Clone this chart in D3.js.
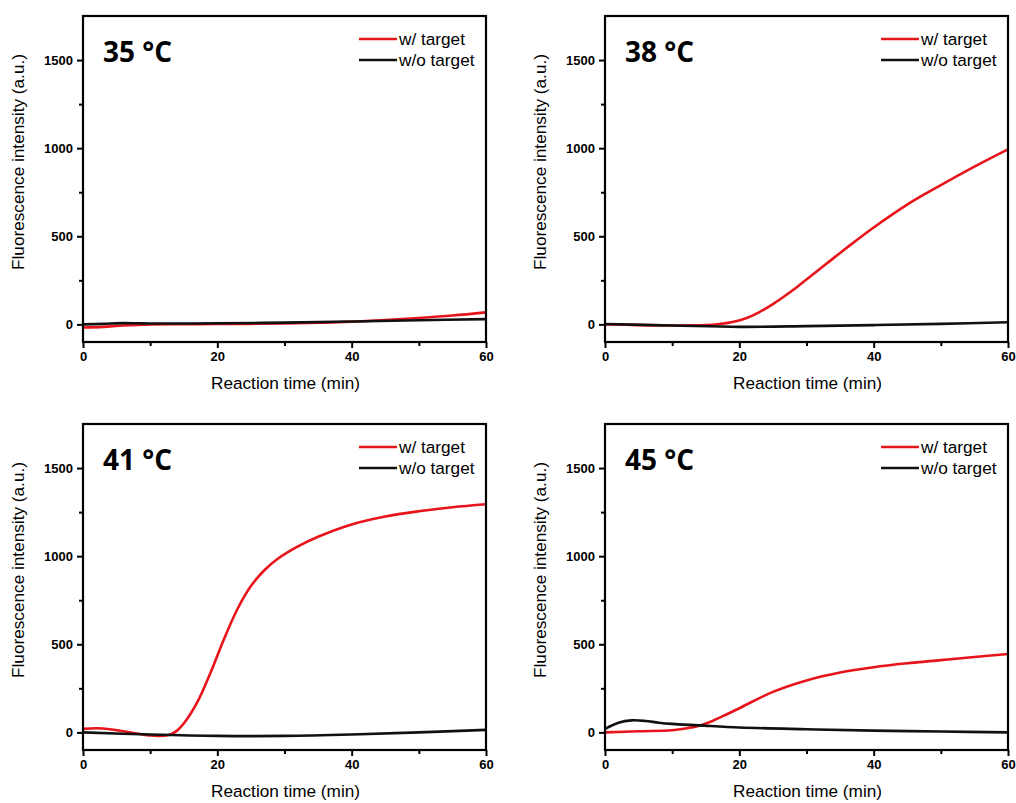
<!DOCTYPE html>
<html>
<head>
<meta charset="utf-8">
<script src="https://cdn.jsdelivr.net/npm/d3@7"></script>
<style>
  body { margin: 0; background: #fff; }
  svg { display: block; font-family: "Liberation Sans", Arial, sans-serif; }
</style>
</head>
<body>
<script>
// panel labels
const temps = ["35 °C", "38 °C", "41 °C", "45 °C"];
const seriesNames = ["w/ target", "w/o target"];
const seriesColors = ["#e8141c", "#111111"];
const xTicks = [0, 20, 40, 60];
const yTicks = [0, 500, 1000, 1500];

// time points (min)
const time35w = [0, 3, 6, 10, 15, 20, 25, 30, 35, 40, 45, 50, 55, 60];
const val35w  = [-18, -14, -6, 0, 1, 2, 3, 5, 9, 15, 24, 36, 50, 68];
const time35o = [0, 3, 6, 8, 10, 15, 20, 30, 40, 50, 60];
const val35o  = [0, 3, 7, 6, 5, 5, 6, 10, 16, 23, 30];

const time38w = [0, 5, 10, 15, 17, 19, 21, 23, 25, 28, 30, 33, 36, 40, 45, 50, 55, 60];
const val38w  = [0, -4, -6, -4, 2, 14, 35, 70, 115, 195, 255, 345, 435, 550, 680, 790, 895, 993];
const time38o = [0, 10, 20, 30, 40, 50, 60];
const val38o  = [2, -6, -14, -10, -4, 3, 12];

const time41w = [0, 2, 4, 6, 8, 10, 11.5, 13, 14, 15, 17, 19, 21, 23, 25, 27, 29, 32, 35, 40, 45, 50, 55, 60];
const val41w  = [20, 23, 18, 6, -6, -18, -20, -12, 10, 50, 170, 340, 530, 700, 830, 920, 985, 1055, 1110, 1180, 1225, 1255, 1278, 1295];
const time41o = [0, 10, 20, 30, 40, 50, 60];
const val41o  = [0, -12, -20, -20, -12, 0, 14];

const time45w = [0, 5, 10, 12, 14, 16, 18, 20, 25, 30, 35, 40, 45, 50, 55, 60];
const val45w  = [0, 6, 12, 22, 38, 65, 100, 137, 230, 295, 340, 370, 392, 410, 428, 445];
const time45o = [0, 2, 4, 6, 8, 10, 14, 20, 30, 40, 50, 60];
const val45o  = [20, 55, 68, 65, 55, 48, 40, 28, 18, 10, 5, 0];

const panelData = [
  [[time35w, val35w], [time35o, val35o]],
  [[time38w, val38w], [time38o, val38o]],
  [[time41w, val41w], [time41o, val41o]],
  [[time45w, val45w], [time45o, val45o]]
];

const width = 1016, height = 803;
const svg = d3.select("body").append("svg")
    .attr("width", width)
    .attr("height", height);

const lefts = [83, 605];
const tops = [16, 424];
const pw = 403, ph = 326;

const x = d3.scaleLinear().domain([0, 60]).range([0, pw]);
const y = d3.scaleLinear().domain([-100, 1750]).range([ph, 0]);

const line = d3.line()
    .x(d => x(d[0]))
    .y(d => y(d[1]))
    .curve(d3.curveCatmullRom.alpha(0.5));

const tickFont = a => a.selectAll("text")
    .attr("font-size", 13).attr("font-weight", "bold")
    .attr("font-family", "Liberation Sans, Arial, sans-serif").attr("fill", "#000");

panelData.forEach((series, i) => {
  const g = svg.append("g")
      .attr("transform", `translate(${lefts[i % 2]},${tops[Math.floor(i / 2)]})`);

  const clip = "clip" + i;
  g.append("clipPath").attr("id", clip)
    .append("rect").attr("width", pw).attr("height", ph);
  series.forEach((s, k) => {
    const pts = s[0].map((t, j) => [t, s[1][j]]);
    g.append("path")
      .datum(pts)
      .attr("clip-path", `url(#${clip})`)
      .attr("fill", "none")
      .attr("stroke", seriesColors[k])
      .attr("stroke-width", 2.6)
      .attr("d", line);
  });

  // frame
  g.append("rect")
      .attr("width", pw).attr("height", ph)
      .attr("fill", "none").attr("stroke", "#000").attr("stroke-width", 2.2);

  // x axis
  const xa = g.append("g").attr("transform", `translate(0,${ph})`);
  xa.append("g").call(d3.axisBottom(x).tickValues([10, 30, 50]).tickSize(4).tickFormat(""))
    .call(a => a.select(".domain").remove())
    .selectAll("line").attr("stroke-width", 2);
  xa.append("g").call(d3.axisBottom(x).tickValues(xTicks).tickSize(6).tickPadding(4).tickFormat(d3.format("d")))
    .call(a => a.select(".domain").remove())
    .call(a => a.selectAll("line").attr("stroke-width", 2))
    .call(tickFont);

  // y axis
  const ya = g.append("g");
  ya.append("g").call(d3.axisLeft(y).tickValues([250, 750, 1250]).tickSize(4).tickFormat(""))
    .call(a => a.select(".domain").remove())
    .selectAll("line").attr("stroke-width", 2);
  ya.append("g").call(d3.axisLeft(y).tickValues(yTicks).tickSize(6).tickPadding(4).tickFormat(d3.format("d")))
    .call(a => a.select(".domain").remove())
    .call(a => a.selectAll("line").attr("stroke-width", 2))
    .call(tickFont);

  // axis titles
  g.append("text")
      .attr("x", pw / 2 + 1).attr("y", ph + 47)
      .attr("text-anchor", "middle").attr("font-size", 17.2)
      .text("Reaction time (min)");
  g.append("text")
      .attr("transform", `translate(-59,${ph / 2 - 17}) rotate(-90)`)
      .attr("text-anchor", "middle").attr("font-size", 17.2)
      .text("Fluorescence intensity (a.u.)");

  // temperature label
  g.append("text")
      .attr("x", 20).attr("y", 46)
      .attr("font-family", "Open Sans, Noto Sans, sans-serif")
      .attr("font-weight", "bold").attr("font-size", 28)
      .text(temps[i]);

  // legend
  const lg = g.append("g").attr("transform", `translate(${pw - 127},23)`);
  seriesNames.forEach((n, k) => {
    lg.append("line")
      .attr("x1", 0).attr("x2", 38)
      .attr("y1", k * 21).attr("y2", k * 21)
      .attr("stroke", seriesColors[k]).attr("stroke-width", 2.6);
    lg.append("text")
      .attr("x", 40).attr("y", k * 21 + 6)
      .attr("font-size", 17.2)
      .text(n);
  });
});
</script>
</body>
</html>
